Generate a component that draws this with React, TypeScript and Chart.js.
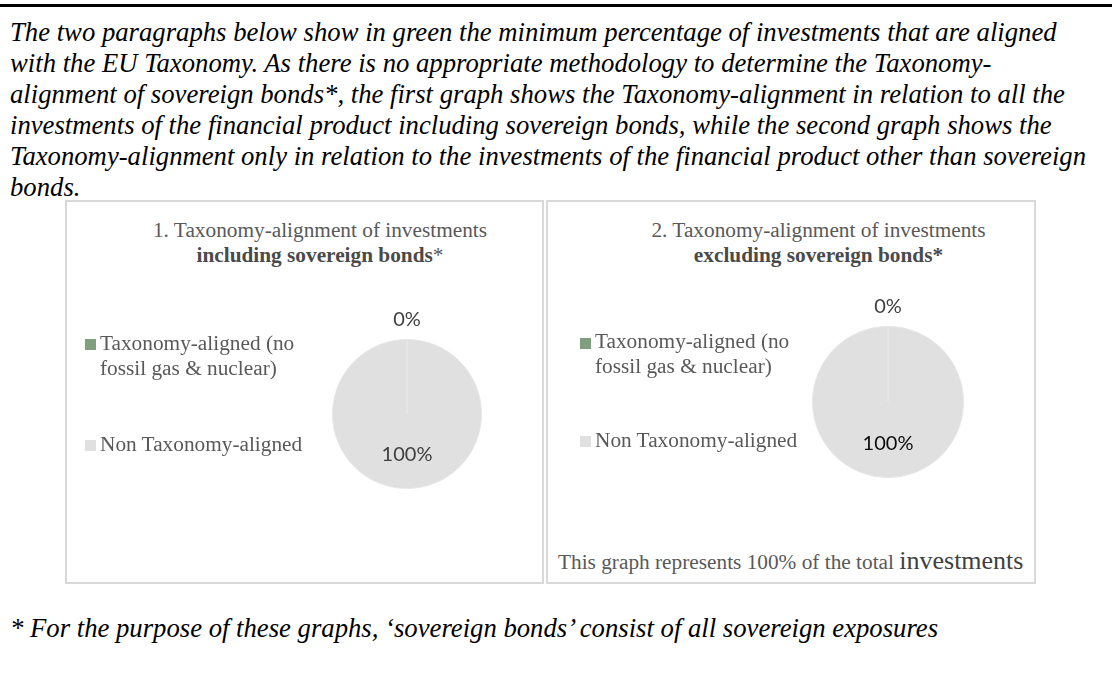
import React, { useEffect, useRef } from 'react';
import { Chart, registerables } from 'chart.js';

Chart.register(...registerables);

// ---------- data ----------
const categories = ['Taxonomy-aligned (no fossil gas & nuclear)', 'Non Taxonomy-aligned'];
const legendLines = [['Taxonomy-aligned (no', 'fossil gas & nuclear)'], ['Non Taxonomy-aligned']];
const includingValues = [0, 100];
const excludingValues = [0, 100];
const sliceColors = ['#7f9f80', '#e0e0e0'];

const introLines = [
  'The two paragraphs below show in green the minimum percentage of investments that are aligned',
  'with the EU Taxonomy. As there is no appropriate methodology to determine the Taxonomy-',
  'alignment of sovereign bonds*, the first graph shows the Taxonomy-alignment in relation to all the',
  'investments of the financial product including sovereign bonds, while the second graph shows the',
  'Taxonomy-alignment only in relation to the investments of the financial product other than sovereign',
  'bonds.',
];
const footnote = '* For the purpose of these graphs, \u2018sovereign bonds\u2019 consist of all sovereign exposures';

// ---------- helpers ----------
const SERIF = '"Liberation Serif", "Times New Roman", serif';
const topFor = (baseline: number, size: number, lh: number) =>
  baseline - ((lh - 1.107 * size) / 2 + 0.891 * size);

const pctLabels = {
  id: 'pctLabels',
  afterDatasetsDraw(chart: any, _args: any, opts: any) {
    const ctx = chart.ctx;
    const ds = chart.data.datasets[0];
    const meta = chart.getDatasetMeta(0);
    const total = ds.data.reduce((a: number, b: number) => a + b, 0);
    meta.data.forEach((arc: any, i: number) => {
      const p = arc.getProps(['x', 'y', 'startAngle', 'endAngle', 'outerRadius'], true);
      const frac = ds.data[i] / total;
      const mid = (p.startAngle + p.endAngle) / 2;
      const dist = frac < 0.05 ? p.outerRadius + 20.5 : p.outerRadius * 0.54;
      const x = p.x + Math.cos(mid) * dist;
      const y = p.y + Math.sin(mid) * dist;
      ctx.save();
      ctx.font = '20px Lato, "Open Sans", sans-serif';
      ctx.fillStyle = opts.colors[i];
      ctx.textAlign = 'center';
      ctx.textBaseline = 'alphabetic';
      ctx.fillText(Math.round(frac * 100) + '%', x, y + 7);
      ctx.restore();
    });
  },
};

function Pie(props: {
  values: number[];
  cx: number;
  cy: number;
  diameter: number;
  labelColors: string[];
}) {
  const ref = useRef<HTMLCanvasElement>(null);
  const W = 240;
  const H = 260;
  const side = (W - props.diameter) / 2;
  const vert = (H - props.diameter) / 2;
  useEffect(() => {
    const chart = new Chart(ref.current as HTMLCanvasElement, {
      type: 'pie',
      data: {
        labels: categories,
        datasets: [
          {
            data: props.values,
            backgroundColor: sliceColors,
            borderColor: '#e7e7e7',
            borderWidth: 1,
          },
        ],
      },
      options: {
        responsive: false,
        animation: false,
        events: [],
        layout: { padding: { left: side, right: side, top: vert, bottom: vert } },
        plugins: {
          legend: { display: false },
          tooltip: { enabled: false },
          // @ts-ignore
          pctLabels: { colors: props.labelColors },
        },
      },
      plugins: [pctLabels as any],
    });
    return () => chart.destroy();
  }, []);
  return (
    <canvas
      ref={ref}
      width={W}
      height={H}
      style={{ position: 'absolute', left: props.cx - W / 2, top: props.cy - H / 2, width: W, height: H }}
    />
  );
}

function Legend(props: { x: number; baselines: number[][]; markerTops: number[] }) {
  const size = 21.3;
  const lh = 25;
  return (
    <>
      {legendLines.map((lines, i) => (
        <React.Fragment key={i}>
          <div
            style={{
              position: 'absolute',
              left: props.x - 15,
              top: props.markerTops[i],
              width: 11,
              height: 11,
              background: sliceColors[i],
            }}
          />
          {lines.map((t, j) => (
            <div
              key={j}
              style={{
                position: 'absolute',
                left: props.x,
                top: topFor(props.baselines[i][j], size, lh),
                fontFamily: SERIF,
                fontSize: size,
                lineHeight: lh + 'px',
                color: '#595959',
                whiteSpace: 'nowrap',
              }}
            >
              {t}
            </div>
          ))}
        </React.Fragment>
      ))}
    </>
  );
}

function Title(props: { cx: number; line1: string; line2: React.ReactNode }) {
  const size = 21.3;
  const lh = 25;
  const base: React.CSSProperties = {
    position: 'absolute',
    left: props.cx - 250,
    width: 500,
    textAlign: 'center',
    fontFamily: SERIF,
    fontSize: size,
    lineHeight: lh + 'px',
    color: '#595959',
    whiteSpace: 'nowrap',
  };
  return (
    <>
      <div style={{ ...base, top: topFor(238, size, lh) }}>{props.line1}</div>
      <div style={{ ...base, top: topFor(263, size, lh) }}>{props.line2}</div>
    </>
  );
}

export default function App() {
  const pSize = 26.7;
  const pLh = 31;
  return (
    <div style={{ position: 'absolute', left: 0, top: 0, width: 1112, height: 686, background: '#fff', overflow: 'hidden' }}>
      <div style={{ position: 'absolute', left: 0, top: 4, width: 1112, height: 3, background: '#000' }} />
      {introLines.map((t, i) => (
        <div
          key={i}
          style={{
            position: 'absolute',
            left: 10,
            top: topFor(42 + i * pLh, pSize, pLh),
            fontFamily: SERIF,
            fontStyle: 'italic',
            fontSize: pSize,
            lineHeight: pLh + 'px',
            color: '#000',
            whiteSpace: 'nowrap',
          }}
        >
          {t}
        </div>
      ))}

      {/* panels */}
      <div
        style={{
          position: 'absolute',
          left: 65,
          top: 200,
          width: 479,
          height: 384,
          border: '2px solid #d9d9d9',
          boxSizing: 'border-box',
        }}
      />
      <div
        style={{
          position: 'absolute',
          left: 546,
          top: 200,
          width: 490,
          height: 384,
          border: '2px solid #d9d9d9',
          boxSizing: 'border-box',
        }}
      />

      <Pie values={includingValues} cx={406.5} cy={413.7} diameter={150} labelColors={['#404040', '#404040']} />
      <Pie values={excludingValues} cx={888} cy={402} diameter={152} labelColors={['#404040', '#0d0d0d']} />

      <Title
        cx={320}
        line1="1. Taxonomy-alignment of investments"
        line2={
          <>
            <b style={{ color: '#4a4a4a' }}>including sovereign bonds</b>*
          </>
        }
      />
      <Title
        cx={818.5}
        line1="2. Taxonomy-alignment of investments"
        line2={<b style={{ color: '#4a4a4a' }}>excluding sovereign bonds*</b>}
      />

      <Legend x={100} baselines={[[351, 376], [452]]} markerTops={[339, 440]} />
      <Legend x={595} baselines={[[349, 374], [448]]} markerTops={[337.5, 436]} />

      <div
        style={{
          position: 'absolute',
          left: 558,
          top: 545.7,
          fontFamily: SERIF,
          fontSize: 21.3,
          lineHeight: '30px',
          color: '#595959',
          whiteSpace: 'nowrap',
        }}
      >
        This graph represents 100% of the total <span style={{ fontSize: 26, color: '#404040' }}>investments</span>
      </div>

      <div
        style={{
          position: 'absolute',
          left: 10,
          top: topFor(638, pSize, pLh),
          fontFamily: SERIF,
          fontStyle: 'italic',
          fontSize: pSize,
          lineHeight: pLh + 'px',
          color: '#000',
          whiteSpace: 'nowrap',
        }}
      >
        {footnote}
      </div>
    </div>
  );
}
